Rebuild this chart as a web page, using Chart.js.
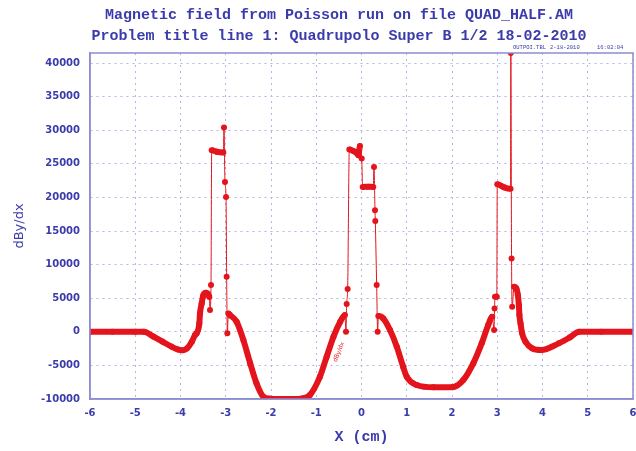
<!DOCTYPE html>
<html>
<head>
<meta charset="utf-8">
<script src="https://cdn.jsdelivr.net/npm/chart.js@4.4.1/dist/chart.umd.min.js"></script>
<style>
  html, body { margin: 0; padding: 0; background: #fff; }
  #wrap { width: 636px; height: 451px; }
</style>
</head>
<body>
<div id="wrap"><canvas id="field" width="636" height="451"></canvas></div>
<script>
// dBy/dx along X (cm)
const xCm = [
  -6, -5.5, -5, -4.81, -4.6, -4.4, -4.2, -4.05, -3.95, -3.86, -3.75, -3.68,
  -3.643, -3.584, -3.569, -3.532, -3.495, -3.436, -3.363, -3.348, -3.326,
  -3.311, -3.2, -3.053, -3.039, -3.017, -2.994, -2.98, -2.965, -2.943,
  -2.906, -2.76, -2.61, -2.46, -2.32, -2.17, -2.02, -1.8, -1.5, -1.3, -1.14,
  -0.92, -0.77, -0.62, -0.47, -0.365, -0.343, -0.328, -0.306, -0.269, -0.18,
  -0.106, -0.069, -0.033, 0.004, 0.026, 0.15, 0.26, 0.276, 0.298, 0.305,
  0.335, 0.357, 0.372, 0.48, 0.63, 0.78, 0.92, 1.0, 1.22, 1.59, 2.03, 2.25,
  2.47, 2.656, 2.8, 2.89, 2.93, 2.94, 2.95, 2.99, 3.0, 3.15, 3.294, 3.3,
  3.316, 3.33, 3.37, 3.42, 3.456, 3.478, 3.49, 3.515, 3.55, 3.625, 3.77,
  3.97, 4.36, 4.6, 4.81, 5.3, 6
];
const dBydx = [
  0, 0, 0, 0, -700, -1450, -2200, -2650, -2750, -2500, -1480, -490,
  -230, 1255, 2740, 4230, 5460, 5800, 5200, 3230, 6950,
  27020, 26800, 26700, 30400, 22300, 20080, 8180, -230, 2740,
  2490, 1500, -1230, -4690, -7670, -9650, -9950, -10000, -10000, -9900, -9400,
  -6700, -3700, -740, 1490, 2490, 0, 4125, 6355, 27125, 26900,
  26600, 26280, 27660, 25790, 21565, 21600, 21565, 24540, 18100, 16500,
  6950, 0, 2340, 2000, 260, -2225, -5200, -6700, -7920, -8260, -8200, -7180,
  -4690, -1720, 1000, 2240, 260, 3480, 5210, 5210, 21970, 21500, 21300, 41500,
  10900, 3720, 6700, 6500, 5460, 3980, 2490, 1250, -230, -1480, -2460,
  -2715, -1720, -850, 0, 0, 0
];
const yTicks = [-10000, -5000, 0, 5000, 10000, 15000, 20000, 25000, 30000, 35000, 40000];
const xTicks = [-6, -5, -4, -3, -2, -1, 0, 1, 2, 3, 4, 5, 6];
const titleLines = [
  'Magnetic field from Poisson run on file QUAD_HALF.AM',
  'Problem title line 1: Quadrupolo Super B 1/2 18-02-2010'
];
const stamp = ['OUTPOI.TBL', '2-18-2010', '16:02:04'];

const BLUE = '#3b3bab';
const RED = '#e4141c';
const points = xCm.map((x, i) => ({ x: x, y: dBydx[i] }));

// titles, frame, file stamp and the curve's own label
const decor = {
  id: 'decor',
  afterDraw(chart) {
    const ctx = chart.ctx;
    const a = chart.chartArea;
    ctx.save();
    ctx.strokeStyle = '#8d8dd2';
    ctx.lineWidth = 1.5;
    ctx.strokeRect(a.left, a.top, a.right - a.left, a.bottom - a.top);

    ctx.fillStyle = BLUE;
    ctx.textAlign = 'center';
    ctx.textBaseline = 'middle';
    ctx.font = 'bold 15px "Liberation Mono"';
    ctx.fillText(titleLines[0], 339, 15);
    ctx.fillText(titleLines[1], 339, 36);

    ctx.font = '5.5px "Liberation Mono"';
    ctx.textAlign = 'left';
    ctx.fillText(stamp[0], 513, 48);
    ctx.fillText(stamp[1], 550, 48);
    ctx.fillText(stamp[2], 597, 48);

    const xs = chart.scales.x, ys = chart.scales.y;
    ctx.translate(xs.getPixelForValue(-0.5), ys.getPixelForValue(-3000));
    ctx.rotate(-68 * Math.PI / 180);
    ctx.fillStyle = RED;
    ctx.textAlign = 'center';
    ctx.font = '6px "DejaVu Sans"';
    ctx.fillText('dBy/dx', 0, 0);
    ctx.restore();
  }
};

// big jumps between samples get the thin connecting line, the smooth field stays thick
const steep = ctx => {
  const dy = Math.abs(ctx.p1.parsed.y - ctx.p0.parsed.y);
  const dx = Math.abs(ctx.p1.parsed.x - ctx.p0.parsed.x) || 1e-6;
  return dy > 1500 && dy / dx > 40000;
};

new Chart(document.getElementById('field'), {
  type: 'line',
  data: {
    datasets: [{
      label: 'dBy/dx',
      data: points,
      borderColor: RED,
      backgroundColor: RED,
      borderWidth: 6,
      cubicInterpolationMode: 'monotone',
      pointRadius: 3,
      pointBorderWidth: 0,
      pointBackgroundColor: RED,
      fill: false,
      segment: {
        borderWidth: ctx => steep(ctx) ? 1 : 6
      }
    }]
  },
  options: {
    responsive: false,
    animation: false,
    layout: { autoPadding: false, padding: { top: 53, right: 3, left: 0, bottom: 0 } },
    plugins: {
      legend: { display: false },
      tooltip: { enabled: false }
    },
    scales: {
      x: {
        type: 'linear',
        min: -6,
        max: 6,
        afterFit: s => { s.height = 52; s.paddingLeft = 0; s.paddingRight = 0; },
        afterBuildTicks: s => { s.ticks = xTicks.map(v => ({ value: v })); },
        ticks: {
          color: BLUE,
          padding: 8,
          callback: v => String(v),
          font: { family: 'DejaVu Sans', size: 10, weight: 'bold' }
        },
        grid: {
          drawTicks: false,
          color: '#b4b4e2',
          lineWidth: 1
        },
        border: { color: '#8d8dd2', width: 1.5, dash: [2, 4] },
        title: {
          display: true,
          text: 'X (cm)',
          color: BLUE,
          padding: { top: 0, bottom: 5 },
          font: { family: 'Liberation Mono', size: 15, weight: 'bold' }
        }
      },
      y: {
        min: -10000,
        max: 41500,
        afterFit: s => { s.width = 90; s.paddingTop = 0; s.paddingBottom = 0; },
        afterBuildTicks: s => { s.ticks = yTicks.map(v => ({ value: v })); },
        ticks: {
          color: BLUE,
          padding: 10,
          callback: v => String(v),
          font: { family: 'DejaVu Sans', size: 10, weight: 'bold' }
        },
        grid: {
          drawTicks: false,
          color: '#b4b4e2',
          lineWidth: 1
        },
        border: { color: '#8d8dd2', width: 1.5, dash: [2, 4] },
        title: {
          display: true,
          text: 'dBy/dx',
          color: BLUE,
          padding: { top: 12, bottom: 0 },
          font: { family: 'DejaVu Sans', size: 13 }
        }
      }
    }
  },
  plugins: [decor]
});
</script>
</body>
</html>
